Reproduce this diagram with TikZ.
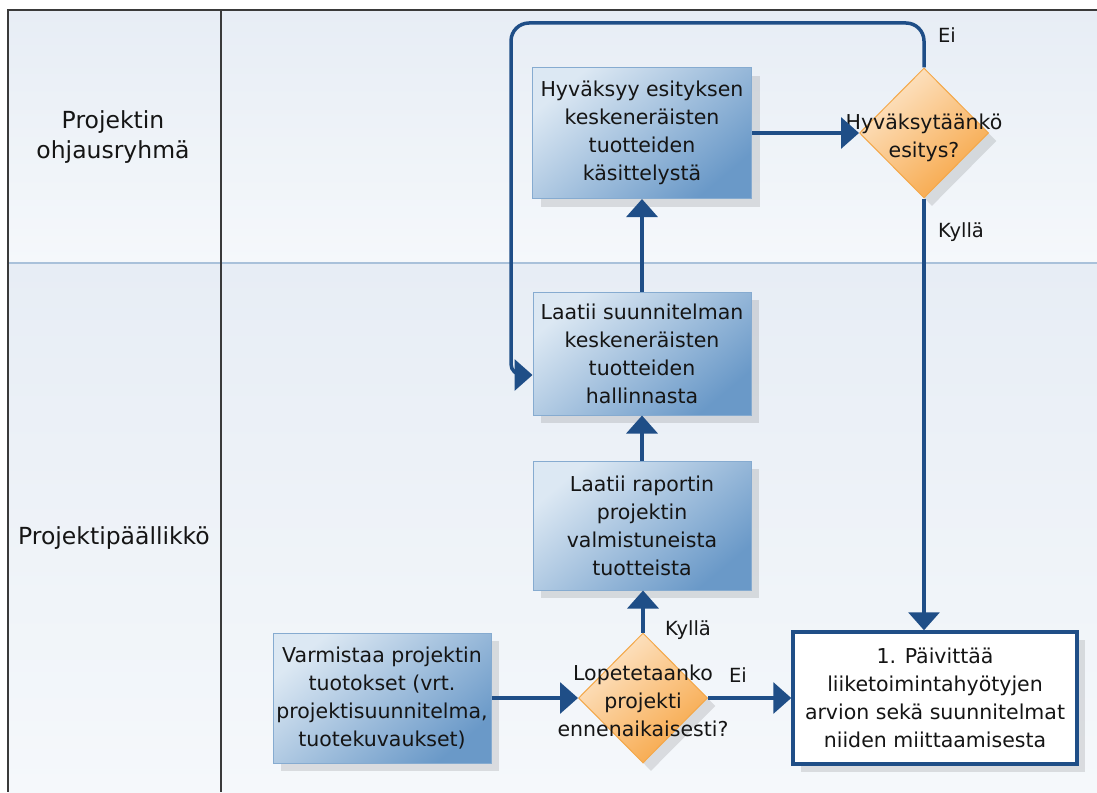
\documentclass[tikz,border=0pt]{standalone}
\usepackage{fontspec}
\setmainfont{DejaVu Sans}
\usetikzlibrary{shapes.geometric,arrows.meta,shadows,calc}

\definecolor{navy}{HTML}{1F4E87}
\definecolor{ink}{HTML}{151515}
\definecolor{laneTop}{HTML}{E7EDF5}
\definecolor{laneBot}{HTML}{F5F8FB}
\definecolor{laneSep}{HTML}{A9C1DA}
\definecolor{frameC}{HTML}{3A3A3A}
\definecolor{boxLight}{HTML}{DCE8F3}
\definecolor{boxDark}{HTML}{6A99C8}
\definecolor{boxEdge}{HTML}{86ABD0}
\definecolor{decLight}{HTML}{FDE6CA}
\definecolor{decDark}{HTML}{F7A646}
\definecolor{decEdge}{HTML}{F4A849}

\newcommand\boxfont{\fontsize{20.5}{28}\selectfont}
\newcommand\lanefont{\fontsize{23.5}{30}\selectfont}
\newcommand\tagfont{\fontsize{19.5}{24}\selectfont}

\tikzset{
  softshadow/.style={drop shadow={shadow xshift=8pt, shadow yshift=-8pt, fill=black, opacity=0.11}},
  task/.style={rectangle, draw=boxEdge, line width=1pt,
    top color=boxLight, bottom color=boxDark, shading angle=40,
    align=center, font=\boxfont, text=ink, inner sep=0pt, softshadow},
  outcome/.style={rectangle, draw=navy, line width=3.5pt, fill=white,
    align=center, font=\boxfont, text=ink, inner sep=0pt, softshadow},
  decision/.style={diamond, draw=decEdge, line width=1pt,
    top color=decLight, bottom color=decDark, shading angle=40,
    minimum width=129pt, minimum height=130pt, inner sep=0pt, softshadow},
  dectext/.style={align=center, font=\boxfont, text=ink, inner sep=0pt},
  lane/.style={align=center, font=\lanefont, text=ink},
  tag/.style={font=\tagfont, text=ink, inner sep=0pt},
  flow/.style={draw=navy, line width=3.5pt, -{Triangle[width=31pt,length=18pt]}}
}

\begin{document}
\begin{tikzpicture}[x=1pt,y=-1pt]
\useasboundingbox (0,0) rectangle (1097,792);

% swimlane background
\shade[top color=laneTop, bottom color=laneBot] (8,10) rectangle (1097,263);
\shade[top color=laneTop, bottom color=laneBot] (8,263) rectangle (1097,792);
\draw[laneSep, line width=2.5pt] (8,263) -- (1097,263);
\draw[frameC, line width=1.5pt] (221,10) -- (221,792);
\draw[frameC, line width=2pt] (8,792) -- (8,10) -- (1097,10);

% lane titles
\node[lane] (laneA) at (113,137) {Projektin\\ohjausryhmä};
\node[lane] (laneB) at (114,538) {Projektipäällikkö};

% process steps
\node[task, minimum width=219pt, minimum height=131pt] (A) at (642,133)
  {Hyväksyy esityksen\\keskeneräisten\\tuotteiden\\käsittelystä};
\node[task, minimum width=218pt, minimum height=123pt] (B) at (642,353.5)
  {Laatii suunnitelman\\keskeneräisten\\tuotteiden\\hallinnasta};
\node[task, minimum width=218pt, minimum height=129pt] (C) at (642,525.5)
  {Laatii raportin\\projektin\\valmistuneista\\tuotteista};
\node[task, minimum width=218pt, minimum height=130pt] (D) at (382,698)
  {Varmistaa projektin\\tuotokset (vrt.\\projektisuunnitelma,\\tuotekuvaukset)};
\node[outcome, minimum width=284pt, minimum height=132pt] (E) at (935,698)
  {1. Päivittää\\liiketoimintahyötyjen\\arvion sekä suunnitelmat\\niiden miittaamisesta};

% decisions
\node[decision] (d1) at (924,133) {};
\node[dectext] (d1t) at (924,138) {Hyväksytäänkö\\esitys?};
\node[decision] (d2) at (643,698) {};
\node[dectext] (d2t) at (643,701) {Lopetetaanko\\projekti\\ennenaikaisesti?};

% flow
\draw[flow] (D) -- (d2);
\draw[flow] (d2) -- (E);
\draw[flow] (d2.north) -- (d2.north |- C.south);
\draw[flow] (C) -- (B);
\draw[flow] (B) -- (A);
\draw[flow] (A) -- (d1);
\draw[flow] (d1.south) -- (d1.south |- E.north);
\coordinate (loopR) at (924,23);
\coordinate (loopL) at (511,23);
\coordinate (loopB) at (511,375);
\draw[flow, rounded corners=18pt] (d1.north) -- (loopR) -- (loopL)
  [rounded corners=11pt] -- (loopB) -- ($(B.west)+(0,21.5)$);

% branch labels
\node[tag] (eiTop) at (947,35) {Ei};
\node[tag] (kyllaTop) at (961,232) {Kyllä};
\node[tag] (kyllaLow) at (688,630) {Kyllä};
\node[tag] (eiLow) at (738,675) {Ei};
\end{tikzpicture}
\end{document}
